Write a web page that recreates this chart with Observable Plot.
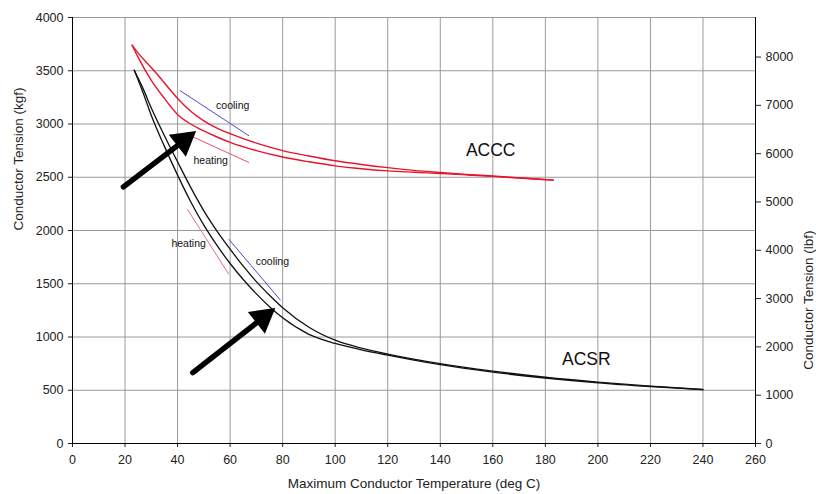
<!DOCTYPE html>
<html><head><meta charset="utf-8">
<script src="https://cdn.jsdelivr.net/npm/d3@7"></script>
<script src="https://cdn.jsdelivr.net/npm/@observablehq/plot@0.6"></script>
<style>body{margin:0;background:#fff}</style>
</head><body><div id="chart"></div>
<script>
// ---- tick labels ----
const xTicks = [0, 20, 40, 60, 80, 100, 120, 140, 160, 180, 200, 220, 240, 260];
const kgfTicks = [0, 500, 1000, 1500, 2000, 2500, 3000, 3500, 4000];
const lbfTicks = [0, 1000, 2000, 3000, 4000, 5000, 6000, 7000, 8000];
const LBF_PER_KGF = 2.20462;

// ---- ACSR curves (temperature degC, tension kgf) ----
const acsrTemp = [23.5, 27, 30, 35, 40, 45, 50, 55, 60, 65, 70, 75, 80, 90, 100, 110, 120, 140, 160, 180, 200, 220, 240];
const acsrHeating = [3505, 3285, 3080, 2790, 2520, 2270, 2050, 1860, 1690, 1540, 1405, 1285, 1180, 1025, 940, 880, 830, 740, 670, 615, 570, 535, 505];
const acsrCooling = [3505, 3325, 3150, 2890, 2645, 2405, 2185, 1995, 1825, 1665, 1520, 1392, 1275, 1092, 970, 895, 840, 750, 680, 622, 576, 538, 507];

// ---- ACCC curves ----
const acccTemp = [22.7, 25, 30, 35, 40, 45, 50, 55, 60, 70, 80, 90, 100, 110, 120, 130, 140, 150, 160, 170, 183];
const acccCooling = [3740, 3665, 3530, 3385, 3240, 3120, 3030, 2962, 2910, 2820, 2750, 2700, 2655, 2620, 2590, 2565, 2545, 2527, 2512, 2495, 2473];
const acccHeating = [3740, 3625, 3410, 3240, 3090, 3000, 2935, 2878, 2828, 2750, 2690, 2645, 2607, 2580, 2560, 2547, 2535, 2522, 2508, 2493, 2473];

// ---- short heating / cooling indicator strokes ----
const indicatorNames = ["acccCooling", "acccHeating", "acsrHeating", "acsrCooling"];
const indicatorT1 = [40.8, 45, 43.7, 59.5];
const indicatorK1 = [3316, 2889, 2200, 1918];
const indicatorT2 = [67.2, 67.2, 59.5, 79.2];
const indicatorK2 = [2889, 2638, 1589, 1345];
const indicatorColors = ["#4b4bc8", "#e6506e", "#e46a8c", "#4b4bc8"];

// ---- arrows ----
const arrowTailT = [19.4, 45.8];
const arrowTailK = [2410, 665];
const arrowHeadT = [42.3, 72.4];
const arrowHeadK = [2842, 1179];

// ---- text labels ----
const labelText = ["ACCC", "ACSR", "cooling", "heating", "heating", "cooling"];
const labelT = [159.2, 195.6, 61, 52.6, 44.2, 76.1];
const labelK = [2748, 794, 3170, 2654, 1879, 1708];
const labelSize = [17.5, 17.5, 10.5, 10.5, 10.5, 10.5];

const series = (temps, vals) => temps.map((t, i) => ({t, k: vals[i]}));
const indicators = indicatorNames.map((n, i) => ({n, t1: indicatorT1[i], k1: indicatorK1[i], t2: indicatorT2[i], k2: indicatorK2[i], c: indicatorColors[i]}));
const arrows = arrowTailT.map((t, i) => ({t1: t, k1: arrowTailK[i], t2: arrowHeadT[i], k2: arrowHeadK[i]}));
const labels = labelText.map((s, i) => ({s, t: labelT[i], k: labelK[i], fs: labelSize[i]}));

const chart = Plot.plot({
  width: 816,
  height: 494,
  marginLeft: 72,
  marginRight: 61,
  marginTop: 17,
  marginBottom: 51,
  style: {fontFamily: "'Liberation Sans', Arial, sans-serif", fontSize: "12.5px", color: "#222", background: "#fff"},
  x: {domain: [0, 260]},
  y: {domain: [0, 4000]},
  marks: [
    Plot.gridX(xTicks, {stroke: "#9a9a9a", strokeOpacity: 1}),
    Plot.gridY(kgfTicks, {stroke: "#9a9a9a", strokeOpacity: 1}),
    Plot.axisX(xTicks, {anchor: "bottom", tickSize: 4, tickPadding: 8, label: null, tickFormat: d => String(d)}),
    Plot.axisY(kgfTicks, {anchor: "left", tickSize: 4, tickPadding: 5, label: null, tickFormat: d => String(d)}),
    Plot.axisY(lbfTicks.map(v => v / LBF_PER_KGF), {anchor: "right", tickSize: 5, tickPadding: 5, label: null,
      tickFormat: d => String(Math.round(d * LBF_PER_KGF))}),
    Plot.ruleX([0, 260], {stroke: "#000"}),
    Plot.ruleY([0], {stroke: "#000"}),
    Plot.text(["Maximum Conductor Temperature (deg C)"], {frameAnchor: "bottom", dy: 44, fontSize: 13.5, fill: "#222"}),
    Plot.text(["Conductor Tension (kgf)"], {frameAnchor: "left", dx: -54, rotate: -90, fontSize: 13.5, fill: "#222"}),
    Plot.text(["Conductor Tension (lbf)"], {frameAnchor: "right", dx: 53, rotate: -90, fontSize: 13.5, fill: "#222"}),
    // main curves
    Plot.line(series(acccTemp, acccCooling), {x: "t", y: "k", stroke: "#e8142c", strokeWidth: 1.4, curve: "monotone-x"}),
    Plot.line(series(acccTemp, acccHeating), {x: "t", y: "k", stroke: "#e8142c", strokeWidth: 1.4, curve: "monotone-x"}),
    Plot.line(series(acsrTemp, acsrHeating), {x: "t", y: "k", stroke: "#111", strokeWidth: 1.3, curve: "monotone-x"}),
    Plot.line(series(acsrTemp, acsrCooling), {x: "t", y: "k", stroke: "#111", strokeWidth: 1.3, curve: "monotone-x"}),
    // indicators
    Plot.link(indicators, {x1: "t1", y1: "k1", x2: "t2", y2: "k2", stroke: "c", strokeWidth: 1}),
    // arrows
    Plot.link(arrows, {x1: "t1", y1: "k1", x2: "t2", y2: "k2", stroke: "#000", strokeWidth: 5.5, strokeLinecap: "round"}),
    Plot.dot(arrows, {x: "t2", y: "k2", symbol: "triangle", r: 9, fill: "#000", stroke: "#000", strokeWidth: 2, rotate: 52}),
    // labels
    Plot.text(labels, {x: "t", y: "k", text: "s", fontSize: d => d.fs, fill: "#111"})
  ]
});
document.getElementById("chart").appendChild(chart);
</script>
</body></html>
